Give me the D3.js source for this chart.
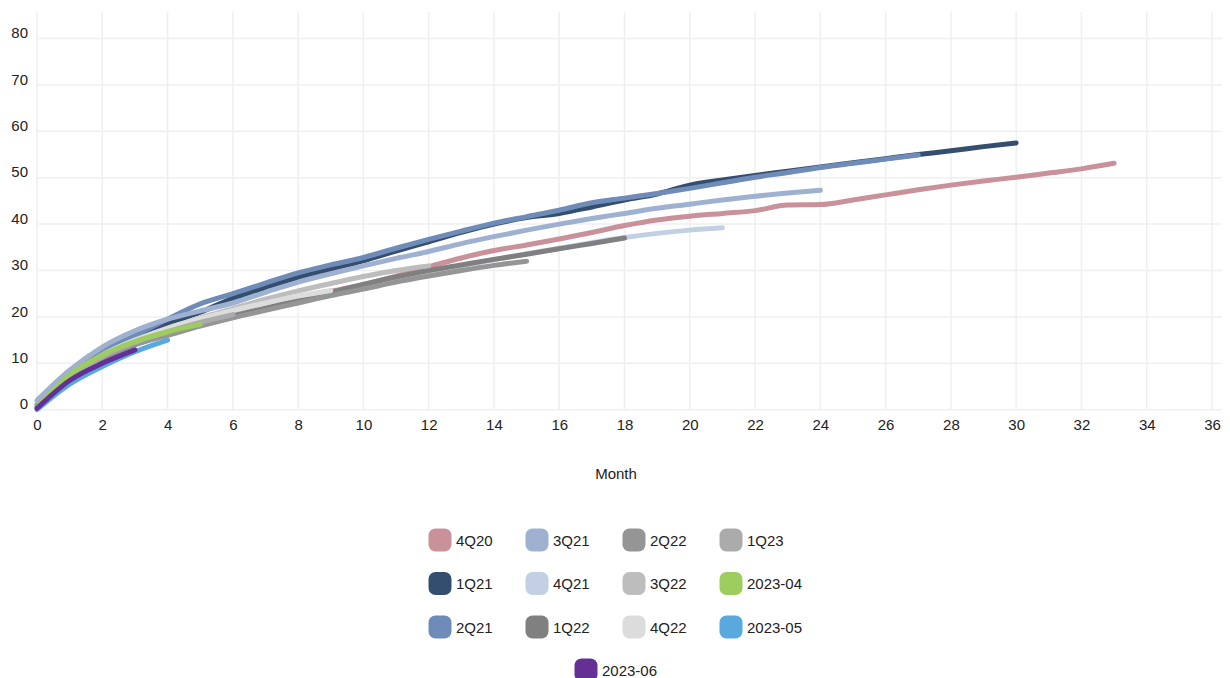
<!DOCTYPE html>
<html>
<head>
<meta charset="utf-8">
<script src="https://cdn.jsdelivr.net/npm/d3@7"></script>
<style>
  body { margin: 0; background: #fff; }
  svg text { font-family: "Liberation Sans", Arial, Helvetica, sans-serif; fill: #222; }
</style>
</head>
<body>
<div id="chart"></div>
<script>

// cohorts, in legend order (later ones drawn on top)
const cohorts = ["4Q20", "1Q21", "2Q21", "3Q21", "4Q21", "1Q22", "2Q22", "3Q22", "4Q22", "1Q23", "2023-04", "2023-05", "2023-06"];
const colors = ["#c9919a", "#344e6f", "#6f8bb8", "#9fb1d0", "#c3d0e3", "#808080", "#959595", "#bdbdbd", "#dcdcdc", "#ababab", "#9dcc5f", "#57a9de", "#653096"];

// value per month since start (month 0, 1, 2 ...)
const v4Q20 = [0.5, 7, 11.5, 15, 17.5, 19.5, 21, 22.5, 24, 25.5, 27, 28.8, 30.8, 32.7, 34.3, 35.5, 36.8, 38.2, 39.7, 40.9, 41.7, 42.3, 42.9, 44.1, 44.2, 45.2, 46.3, 47.4, 48.4, 49.3, 50.1, 51.0, 51.9, 53.1];
const v1Q21 = [0.5, 7, 12, 15.5, 18.5, 21, 24, 26.3, 28.5, 30.3, 32.1, 34.2, 36.2, 38.2, 40, 41.4, 42.3, 43.7, 45.2, 46.5, 48.4, 49.5, 50.5, 51.4, 52.3, 53.2, 54.1, 55, 55.8, 56.7, 57.5];
const v2Q21 = [1, 7.5, 12.5, 16, 19.5, 22.8, 25, 27.3, 29.5, 31.2, 32.8, 34.8, 36.7, 38.5, 40.2, 41.6, 43, 44.6, 45.6, 46.6, 47.7, 48.9, 50.1, 51.1, 52.2, 53.1, 54, 54.9];
const v3Q21 = [2, 8.5, 13.5, 17, 19.5, 21.3, 23, 25.3, 27.5, 29.3, 31, 32.6, 34.1, 35.8, 37.3, 38.7, 40, 41.2, 42.3, 43.4, 44.3, 45.2, 46, 46.7, 47.3];
const v4Q21 = [0.5, 6.5, 11, 14, 16.5, 18.5, 20.3, 22, 23.6, 25.2, 26.8, 28.2, 29.6, 31, 32.3, 33.6, 34.8, 36, 37.1, 38, 38.7, 39.2];
const v1Q22 = [0.5, 6.5, 11, 14, 16.3, 18.3, 20.2, 21.9, 23.6, 25.3, 27, 28.6, 30, 31.2, 32.4, 33.5, 34.7, 35.8, 37];
const v2Q22 = [0.5, 6.5, 11, 14, 16, 18, 19.8, 21.4, 23, 24.6, 26, 27.5, 28.8, 30, 31.1, 32];
const v3Q22 = [0.5, 7, 11.5, 14.8, 17.5, 19.8, 21.8, 23.8, 25.6, 27.2, 28.7, 30, 31];
const v4Q22 = [0.5, 7, 11.8, 15, 17.6, 19.6, 21.4, 23, 24.5, 25.7];
const v1Q23 = [0.5, 7, 11.5, 14.5, 16.8, 18.8, 20.5];
const v2023_04 = [0.5, 7.5, 11.8, 14.7, 16.8, 18.4];
const v2023_05 = [0, 5.5, 9.3, 12.5, 15];
const v2023_06 = [0.3, 6.3, 10, 12.9];

const values = [v4Q20, v1Q21, v2Q21, v3Q21, v4Q21, v1Q22, v2Q22, v3Q22, v4Q22, v1Q23, v2023_04, v2023_05, v2023_06];

const xTicks = d3.range(0, 37, 2);
const yTicks = [0, 10, 20, 30, 40, 50, 60, 70, 80];

const width = 1230, height = 678;

const svg = d3.select("#chart").append("svg")
  .attr("width", width)
  .attr("height", height);

const x = d3.scaleLinear().domain([0, 36]).range([37, 1212]);
const y = d3.scaleLinear().domain([0, 80]).range([409.7, 38.5]);
const gridTop = 12, gridRight = 1222;

// grid
const grid = svg.append("g").attr("stroke", "#eeeff0").attr("stroke-width", 1.5);
grid.selectAll("line.v").data(xTicks).enter().append("line")
  .attr("x1", d => x(d)).attr("x2", d => x(d))
  .attr("y1", gridTop).attr("y2", y(0));
grid.selectAll("line.h").data(yTicks).enter().append("line")
  .attr("x1", x(0)).attr("x2", gridRight)
  .attr("y1", d => y(d)).attr("y2", d => y(d));

// axes (labels only)
const xAxis = svg.append("g")
  .attr("transform", "translate(0," + y(0) + ")")
  .call(d3.axisBottom(x).tickValues(xTicks).tickSize(0).tickPadding(10));
xAxis.select(".domain").remove();
xAxis.selectAll("text").attr("font-size", 15).attr("fill", "#222");

const yAxis = svg.append("g")
  .attr("transform", "translate(" + x(0) + ",0)")
  .call(d3.axisLeft(y).tickValues(yTicks).tickSize(0).tickPadding(9));
yAxis.select(".domain").remove();
yAxis.selectAll("text").attr("font-size", 15).attr("fill", "#222").attr("dy", "-0.05em");

svg.append("text")
  .attr("x", 616).attr("y", 479)
  .attr("text-anchor", "middle")
  .attr("font-size", 15)
  .text("Month");

// lines
const line = d3.line()
  .x((d, i) => x(i))
  .y(d => y(d))
  .curve(d3.curveMonotoneX);

svg.append("g").selectAll("path")
  .data(values)
  .enter().append("path")
    .attr("d", d => line(d))
    .attr("fill", "none")
    .attr("stroke", (d, i) => colors[i])
    .attr("stroke-width", 5)
    .attr("stroke-linecap", "round")
    .attr("stroke-linejoin", "round");

// legend: 4 columns filled top to bottom, last item centred underneath
const colX = [440, 537, 634, 731];
const rowY = [540, 583.5, 627];
const legend = svg.append("g");
cohorts.forEach(function(name, i) {
  let cx, cy;
  if (i < 12) {
    cx = colX[Math.floor(i / 3)];
    cy = rowY[i % 3];
  } else {
    cx = 586;
    cy = 670;
  }
  const g = legend.append("g").attr("transform", "translate(" + cx + "," + cy + ")");
  g.append("rect")
    .attr("x", -11.5).attr("y", -11.5)
    .attr("width", 23).attr("height", 23)
    .attr("rx", 7)
    .attr("fill", colors[i]);
  g.append("text")
    .attr("x", 16).attr("y", 5.5)
    .attr("font-size", 15)
    .text(name);
});

</script>
</body>
</html>
